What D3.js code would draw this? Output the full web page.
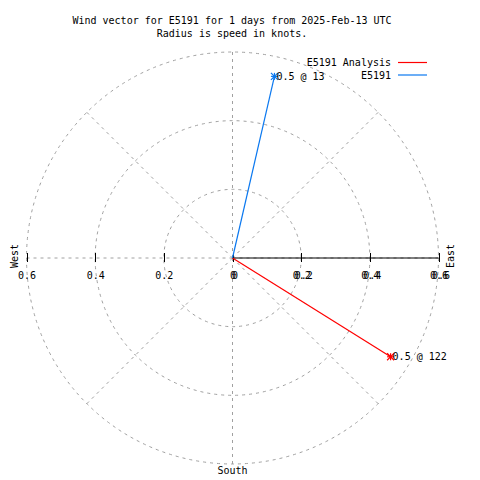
<!DOCTYPE html>
<html><head><meta charset="utf-8">
<script src="https://cdn.jsdelivr.net/npm/d3@7"></script>
<style>
html,body{margin:0;padding:0;background:#fff;}
text{font-family:"DejaVu Sans Mono","Liberation Mono",monospace;font-size:10px;fill:#000;}
</style></head>
<body>
<svg id="c" width="480" height="480"></svg>
<script>
// ---- data ----
const titleLines = ["Wind vector for E5191 for 1 days from 2025-Feb-13 UTC", "Radius is speed in knots."];
const seriesNames = ["E5191 Analysis", "E5191"];
const seriesColors = ["#ff0000", "#0a78f0"];
const directions = [122, 13];      // degrees clockwise from north
const speeds = [0.543, 0.543];     // knots
const pointLabels = ["0.5 @ 122", "0.5 @ 13"];
const radialTicks = [0.2, 0.4, 0.6];
const xTickValues = [-0.6, -0.4, -0.2, 0, 0.2, 0.4, 0.6];
const gridAngles = [0, 45, 90, 135, 180, 225, 270, 315];

const svg = d3.select("#c");
const cx = 232.5, cy = 258;
const rMax = 0.6;
const r = d3.scaleLinear().domain([0, rMax]).range([0, 206]);
const x = d3.scaleLinear().domain([-rMax, rMax]).range([cx - 206, cx + 206]);
const gridCol = "#a0a0a0";

// title
svg.selectAll("text.title").data(titleLines).join("text")
  .attr("x", 232).attr("y", (d, i) => 24 + i * 13)
  .attr("text-anchor", "middle").text(d => d);

// circles
svg.append("g").selectAll("circle").data(radialTicks).join("circle")
  .attr("cx", cx).attr("cy", cy).attr("r", d => r(d))
  .attr("fill", "none").attr("stroke", gridCol).attr("stroke-width", 1)
  .attr("stroke-dasharray", "3,4");

// radial grid lines
svg.append("g").selectAll("line").data(gridAngles).join("line")
  .attr("x1", cx).attr("y1", cy)
  .attr("x2", d => cx + r(rMax) * Math.sin(d * Math.PI / 180))
  .attr("y2", d => cy - r(rMax) * Math.cos(d * Math.PI / 180))
  .attr("stroke", gridCol).attr("stroke-width", 1).attr("stroke-dasharray", "3,4");

// black r axis (east)
svg.append("line").attr("x1", x(0)).attr("y1", cy).attr("x2", x(rMax)).attr("y2", cy)
  .attr("stroke", "#000").attr("stroke-width", 1);

// ticks
svg.append("g").selectAll("line").data(xTickValues).join("line")
  .attr("x1", d => Math.round(x(d)) + 0.5).attr("x2", d => Math.round(x(d)) + 0.5)
  .attr("y1", cy - 5).attr("y2", cy + 4)
  .attr("stroke", "#000").attr("stroke-width", 1);

// x tick labels
svg.append("g").selectAll("text").data(xTickValues).join("text")
  .attr("x", d => x(d) + 0.5).attr("y", 279).attr("text-anchor", "middle")
  .text(d => d3.format("")(Math.abs(+d.toFixed(1))));
// r tick labels (overlap, slightly offset)
svg.append("g").selectAll("text").data([0].concat(radialTicks)).join("text")
  .attr("x", d => x(d) + 2.5).attr("y", 279).attr("text-anchor", "middle")
  .text(d => d3.format("")(+d.toFixed(1)));

// compass labels
svg.append("text").attr("transform", `translate(${cx + 221},${cy - 2}) rotate(-90)`)
  .attr("text-anchor", "middle").text("East");
svg.append("text").attr("transform", `translate(${cx - 215},${cy - 2}) rotate(-90)`)
  .attr("text-anchor", "middle").text("West");
svg.append("text").attr("x", cx).attr("y", cy + 216).attr("text-anchor", "middle").text("South");

// vectors
const pts = directions.map((d, i) => ({
  x: cx + r(speeds[i]) * Math.sin(d * Math.PI / 180),
  y: cy - r(speeds[i]) * Math.cos(d * Math.PI / 180),
  c: seriesColors[i], lab: pointLabels[i]
}));
const g = svg.append("g");
pts.forEach(p => {
  g.append("line").attr("x1", cx).attr("y1", cy).attr("x2", p.x).attr("y2", p.y)
    .attr("stroke", p.c).attr("stroke-width", 1.2);
  const s = 3.5;
  [[ -s, 0, s, 0], [0, -s, 0, s], [-s, -s, s, s], [-s, s, s, -s]].forEach(a => {
    g.append("line").attr("x1", p.x + a[0]).attr("y1", p.y + a[1])
      .attr("x2", p.x + a[2]).attr("y2", p.y + a[3])
      .attr("stroke", p.c).attr("stroke-width", 1.2);
  });
  g.append("text").attr("x", p.x + 2).attr("y", p.y + 3.5).text(p.lab);
});

// legend
const leg = svg.append("g");
seriesNames.forEach((n, i) => {
  const y = 62.5 + i * 12.5;
  leg.append("text").attr("x", 391).attr("y", y + 3.5).attr("text-anchor", "end").text(n);
  leg.append("line").attr("x1", 398).attr("x2", 427).attr("y1", y).attr("y2", y)
    .attr("stroke", seriesColors[i]).attr("stroke-width", 1.2);
});
</script>
</body></html>
